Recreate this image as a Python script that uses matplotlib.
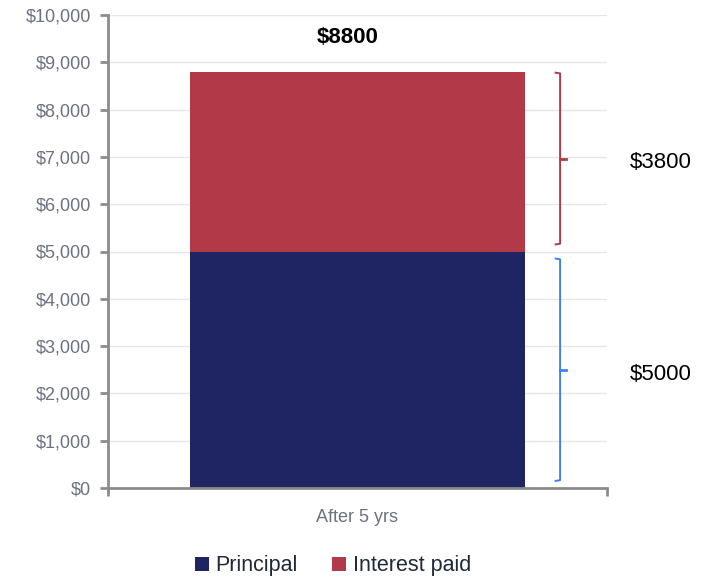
import matplotlib.pyplot as plt
import matplotlib.transforms as mtransforms
from matplotlib.ticker import FuncFormatter

categories = ["After 5 yrs"]
principal = [5000]
interest = [3800]
series_names = ["Principal", "Interest paid"]

navy = "#1f2562"
red = "#b23a48"
blue = "#3b82f6"
gray = "#6b7280"

plt.rcParams['font.family'] = ['Liberation Sans', 'DejaVu Sans']

fig = plt.figure(figsize=(7.05, 5.79), dpi=100)
ax = fig.add_axes([108/705, 1-488/579, 499/705, 473/579])

x = [0]
ax.bar(x, principal, width=0.67, color=navy, label=series_names[0], zorder=2)
ax.bar(x, interest, width=0.67, bottom=principal, color=red, label=series_names[1], zorder=2)

ax.set_xlim(-0.5, 0.5)
ax.set_ylim(0, 10000)
ax.set_yticks(range(0, 10001, 1000))
ax.yaxis.set_major_formatter(FuncFormatter(lambda v, p: f"${v:,.0f}"))
ax.grid(axis='y', color='#e6e6ea', linewidth=1, zorder=0)

ax.set_xticks([-0.5, 0.5])
ax.set_xticklabels([])
ax.set_xticks([0], minor=True)
ax.set_xticklabels(categories, minor=True)
ax.tick_params(axis='x', which='minor', length=0, pad=15, labelsize=13, labelcolor=gray)
ax.tick_params(axis='x', which='major', length=6, width=2, color='#8c8c8c', direction='out')
ax.tick_params(axis='y', length=6, width=2, color='#8c8c8c', labelsize=13, labelcolor=gray, pad=6)

for s in ['top', 'right']:
    ax.spines[s].set_visible(False)
for s in ['left', 'bottom']:
    ax.spines[s].set_color('#8c8c8c')
    ax.spines[s].set_linewidth(2)

total = principal[0] + interest[0]
ax.annotate(f"${total}", xy=(0, total), xytext=(-7, 25), textcoords='offset points',
            ha='center', va='center', fontsize=16, fontweight='bold', color='black')

# brackets on the right
trans = mtransforms.blended_transform_factory(ax.transAxes, ax.transData)
def bracket(y0, y1, color, text):
    xm, xh, xt = 0.906, 0.897, 0.918
    ax.plot([xh, xm, xm, xh], [y1, y1 - 15, y0 + 15, y0], color=color, lw=1.4,
            transform=trans, clip_on=False, solid_joinstyle='round')
    ym = (y0 + y1) / 2
    ax.plot([xm, xt], [ym, ym], color=color, lw=2, transform=trans, clip_on=False)
    ax.text(1.045, ym - 90, text, transform=trans, ha='left', va='center', fontsize=16, color='black')

bracket(principal[0] + 150, total - 20, red, f"${interest[0]}")
bracket(150, principal[0] - 150, blue, f"${principal[0]}")

fig.legend(loc='center', bbox_to_anchor=(333/705, 1 - 566/579), ncol=2, frameon=False,
           fontsize=15.5, handlelength=0.65, handleheight=0.65, handletextpad=0.3,
           columnspacing=1.6, labelcolor='#1f2937')

fig.savefig("out.png", dpi=100)
